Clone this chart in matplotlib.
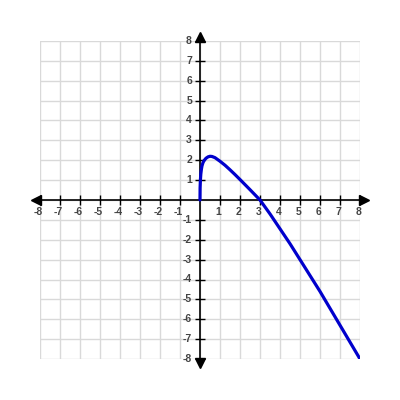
import matplotlib
matplotlib.use("Agg")
import matplotlib.pyplot as plt

# points
curve_x = [0, 0.005, 0.02, 0.04, 0.07, 0.1, 0.15, 0.2, 0.3, 0.4, 0.5, 0.6, 0.75, 1.0,
           1.25, 1.5, 1.75, 2.0, 2.5, 3.0, 3.5, 4.0, 4.5, 5.0, 5.5, 6.0, 6.5, 7.0, 7.5, 8.0]
curve_y = [0, 0.6, 1.0, 1.3, 1.55, 1.72, 1.88, 1.98, 2.1, 2.17, 2.2, 2.19, 2.13, 1.95,
           1.75, 1.52, 1.28, 1.03, 0.52, 0.0, -0.7, -1.45, -2.2, -3.0, -3.8, -4.6, -5.45, -6.3, -7.15, -8.0]

ticks = [-8, -7, -6, -5, -4, -3, -2, -1, 1, 2, 3, 4, 5, 6, 7, 8]

plt.rcParams["font.family"] = ["Liberation Sans", "DejaVu Sans"]

fig = plt.figure(figsize=(4, 4), dpi=100)
ax = fig.add_axes([0.1, 0.1025, 0.8, 0.795])
ax.set_xlim(-8, 8)
ax.set_ylim(-8, 8)
for s in ax.spines.values():
    s.set_visible(False)
ax.set_xticks([])
ax.set_yticks([])

# grid
for t in range(-8, 9):
    ax.axvline(t, color="#d9d9d9", lw=1, zorder=0)
    ax.axhline(t, color="#d9d9d9", lw=1, zorder=0)

# axes with arrows
ax.plot([-8.2, 8.2], [0, 0], color="black", lw=1.2, clip_on=False, zorder=2)
ax.plot([0, 0], [-8.2, 8.2], color="black", lw=1.2, clip_on=False, zorder=2)
ax.plot([-8.22], [0], marker="<", color="black", ms=7, clip_on=False, zorder=3)
ax.plot([8.22], [0], marker=">", color="black", ms=7, clip_on=False, zorder=3)
ax.plot([0], [8.22], marker="^", color="black", ms=7, clip_on=False, zorder=3)
ax.plot([0], [-8.22], marker="v", color="black", ms=7, clip_on=False, zorder=3)

# tick marks and labels
ax.plot(ticks, [0] * len(ticks), ls="none", marker="|", color="black", ms=7, mew=1, zorder=3)
ax.plot([0] * len(ticks), ticks, ls="none", marker="_", color="black", ms=7, mew=1, zorder=3)
for t in ticks:
    ax.text(t - 0.08, -0.35, str(t), ha="center", va="top", fontsize=7.5,
            color="#444444", fontweight="bold")
    ax.text(-0.4, t, str(t), ha="right", va="center", fontsize=7.5,
            color="#444444", fontweight="bold")

ax.plot(curve_x, curve_y, color="#0000cc", lw=2.3, zorder=4, solid_capstyle="round")

fig.savefig("out.png", dpi=100)
